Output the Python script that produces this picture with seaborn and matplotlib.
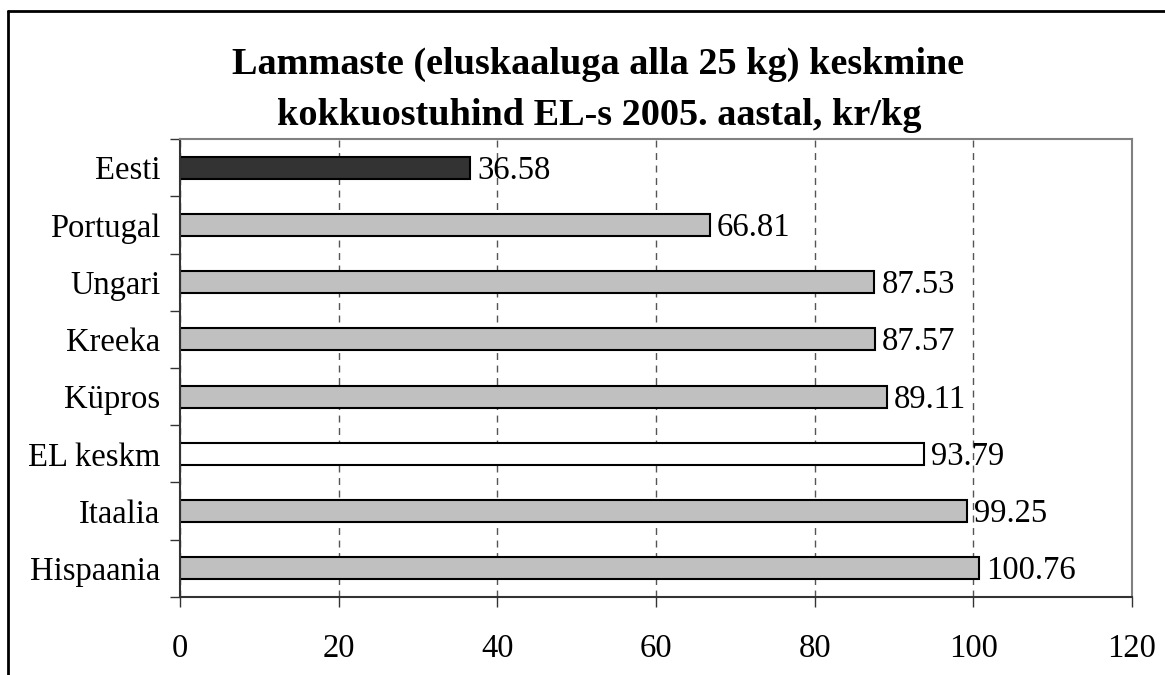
import matplotlib.pyplot as plt
import matplotlib.lines as mlines
import pandas as pd
import seaborn as sns

# ====================================
# Andmed
# ====================================
COUNTRIES = ["Eesti", "Portugal", "Ungari", "Kreeka", "Küpros",
             "EL keskm", "Itaalia", "Hispaania"]
PRICES = [36.58, 66.81, 87.53, 87.57, 89.11, 93.79, 99.25, 100.76]
BAR_COLORS = ["#333333", "#C0C0C0", "#C0C0C0", "#C0C0C0", "#C0C0C0",
              "#FFFFFF", "#C0C0C0", "#C0C0C0"]
X_TICKS = [0, 20, 40, 60, 80, 100, 120]
TITLE_LINES = ["Lammaste (eluskaaluga alla 25 kg) keskmine",
               "kokkuostuhind EL-s 2005. aastal, kr/kg"]

sns.set_theme(style="white")
plt.rcParams["font.family"] = ["Liberation Serif", "DejaVu Serif"]
plt.rcParams["text.color"] = "black"
plt.rcParams["xtick.color"] = "black"
plt.rcParams["ytick.color"] = "black"

FS = 23.5

df = pd.DataFrame({"riik": COUNTRIES, "hind": PRICES})

fig = plt.figure(figsize=(11.65, 6.75), dpi=100)
ax = fig.add_axes([0.1545, 0.1156, 0.8172, 0.6784])

sns.barplot(
    data=df,
    x="hind",
    y="riik",
    hue="riik",
    palette=BAR_COLORS,
    order=COUNTRIES,
    hue_order=COUNTRIES,
    legend=False,
    width=0.385,
    edgecolor="black",
    linewidth=1.5,
    saturation=1,
    ax=ax
)

# väärtused tulpade otsa, veidi allapoole nihutatud
for cont in ax.containers:
    labels = ax.bar_label(cont, fmt="%.2f", padding=5, fontsize=FS, color="black")
    for lab in labels:
        lab.set_y(-2)

ax.set_xlim(0, 120)
ax.set_ylim(len(COUNTRIES) - 0.5, -0.5)
ax.set_xticks(X_TICKS)
ax.set_xticklabels([str(t) for t in X_TICKS])
ax.set_xlabel("")
ax.set_ylabel("")

# kategooriate vahelised kriipsud y-teljel
ax.set_yticks([i + 0.5 for i in range(-1, len(COUNTRIES))], minor=True)
ax.tick_params(axis="y", which="major", length=0, pad=14, labelsize=FS)
ax.tick_params(axis="y", which="minor", left=True, length=7.5, width=1, color="#333333")
ax.tick_params(axis="x", which="major", bottom=True, length=7.5, width=1,
               color="#333333", pad=19, labelsize=FS)

ax.xaxis.grid(True, linestyle=(0, (5, 4)), color="#555555", linewidth=1)
ax.set_axisbelow(True)

for side in ["top", "right"]:
    ax.spines[side].set_color("#808080")
    ax.spines[side].set_linewidth(1.5)
for side in ["left", "bottom"]:
    ax.spines[side].set_color("#333333")
    ax.spines[side].set_linewidth(1.5)

fig.text(0.513, 1 - 74 / 675, TITLE_LINES[0], ha="center", va="baseline",
         fontsize=27.5, fontweight="bold")
fig.text(0.514, 1 - 125 / 675, TITLE_LINES[1], ha="center", va="baseline",
         fontsize=27.5, fontweight="bold")

# välimine raam (vasak ja ülemine serv)
fig.add_artist(mlines.Line2D([8 / 1165, 1.0], [1 - 11 / 675, 1 - 11 / 675],
                             transform=fig.transFigure, color="black", linewidth=2))
fig.add_artist(mlines.Line2D([8 / 1165, 8 / 1165], [0.0, 1 - 11 / 675],
                             transform=fig.transFigure, color="black", linewidth=2))

fig.savefig("out.png", dpi=100)
